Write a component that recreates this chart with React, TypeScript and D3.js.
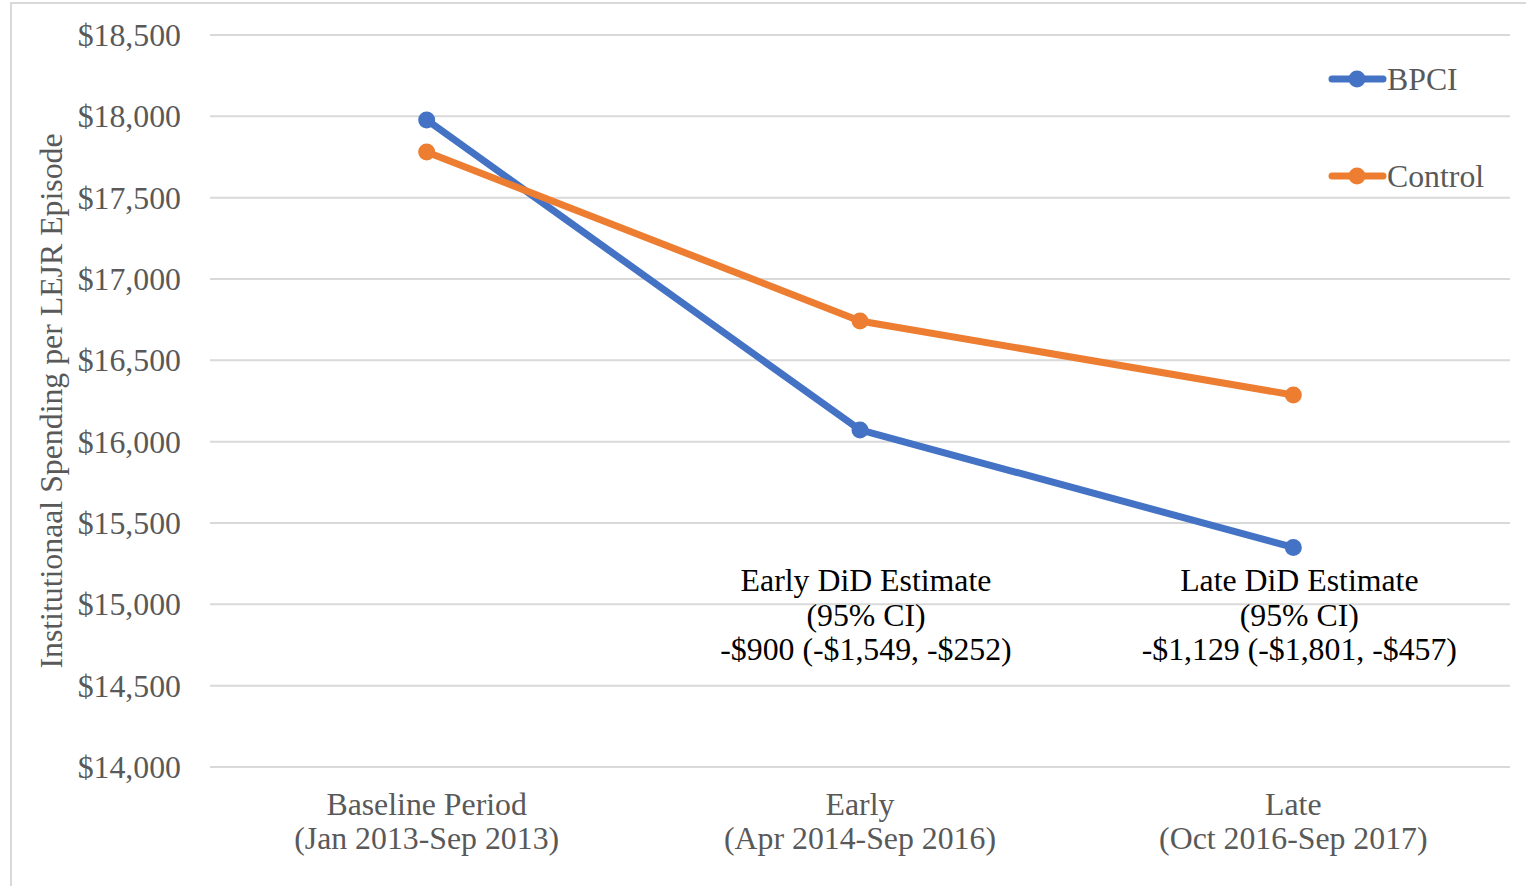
import React from 'react'
import { scaleLinear, scalePoint, line } from 'd3'

const categories = ['Baseline Period', 'Early', 'Late']
const categorySub = ['(Jan 2013-Sep 2013)', '(Apr 2014-Sep 2016)', '(Oct 2016-Sep 2017)']
const bpci = [17978, 16072, 15350]
const control = [17781, 16742, 16287]
const yTicks = [14000, 14500, 15000, 15500, 16000, 16500, 17000, 17500, 18000, 18500]
const annotations = [
  { cat: 'Early', lines: ['Early DiD Estimate', '(95% CI)', '-$900 (-$1,549, -$252)'] },
  { cat: 'Late', lines: ['Late DiD Estimate', '(95% CI)', '-$1,129 (-$1,801, -$457)'] }
]

const W = 1526
const H = 886
const M = { left: 210, right: 16, top: 35, bottom: 119 }
const FONT = '"Liberation Serif", "Times New Roman", serif'
const FS = 31.8
const GREY = '#595959'
const BLUE = '#4472C4'
const ORANGE = '#ED7D31'

const fmt = (v: number) => '$' + v.toLocaleString('en-US')

export default function App() {
  const x = scalePoint<string>().domain(categories).range([M.left, W - M.right]).padding(0.5)
  const y = scaleLinear().domain([14000, 18500]).range([H - M.bottom, M.top])
  const path = line<number>()
    .x((_, i) => x(categories[i]) as number)
    .y((d) => y(d))

  const series = [
    { name: 'BPCI', data: bpci, color: BLUE },
    { name: 'Control', data: control, color: ORANGE }
  ]

  return (
    <svg width={W} height={H} style={{ position: 'absolute', left: 0, top: 0, background: '#fff' }} fontFamily={FONT}>
      <rect x={11} y={3} width={W + 20} height={H + 20} fill="#fff" stroke="#d9d9d9" strokeWidth={2} />
      <g className="grid">
        {yTicks.map((t) => (
          <g key={t}>
            <line x1={M.left} x2={W - M.right} y1={y(t)} y2={y(t)} stroke="#d9d9d9" strokeWidth={2} />
            <text x={181} y={y(t)} dy="0.35em" textAnchor="end" fontSize={FS} fill={GREY}>
              {fmt(t)}
            </text>
          </g>
        ))}
      </g>
      <text
        transform={`translate(62, ${(M.top + H - M.bottom) / 2}) rotate(-90)`}
        textAnchor="middle"
        fontSize={FS}
        fill={GREY}
      >
        Institutionaal Spending per LEJR Episode
      </text>
      <g className="x-axis">
        {categories.map((c, i) => (
          <g key={c}>
            <text x={x(c)} y={815} textAnchor="middle" fontSize={FS} fill={GREY}>
              {c}
            </text>
            <text x={x(c)} y={849} textAnchor="middle" fontSize={FS} fill={GREY}>
              {categorySub[i]}
            </text>
          </g>
        ))}
      </g>
      <g className="chart">
        {series.map((s) => (
          <g key={s.name}>
            <path d={path(s.data) || ''} fill="none" stroke={s.color} strokeWidth={7} strokeLinejoin="round" />
            {s.data.map((v, i) => (
              <circle key={i} cx={x(categories[i])} cy={y(v)} r={8.5} fill={s.color} />
            ))}
          </g>
        ))}
      </g>
      <g className="annotations">
        {annotations.map((a) => (
          <g key={a.cat}>
            {a.lines.map((l, j) => (
              <text key={j} x={(x(a.cat) as number) + 6} y={591 + j * 34.5} textAnchor="middle" fontSize={FS} fill="#000">
                {l}
              </text>
            ))}
          </g>
        ))}
      </g>
      <g className="legend">
        {series.map((s, i) => (
          <g key={s.name} transform={`translate(1330, ${79 + i * 97})`}>
            <line x1={2} x2={53} y1={0} y2={0} stroke={s.color} strokeWidth={7} strokeLinecap="round" />
            <circle cx={27} cy={0} r={8.5} fill={s.color} />
            <text x={57} y={0} dy="0.35em" fontSize={FS} fill={GREY}>
              {s.name}
            </text>
          </g>
        ))}
      </g>
    </svg>
  )
}
